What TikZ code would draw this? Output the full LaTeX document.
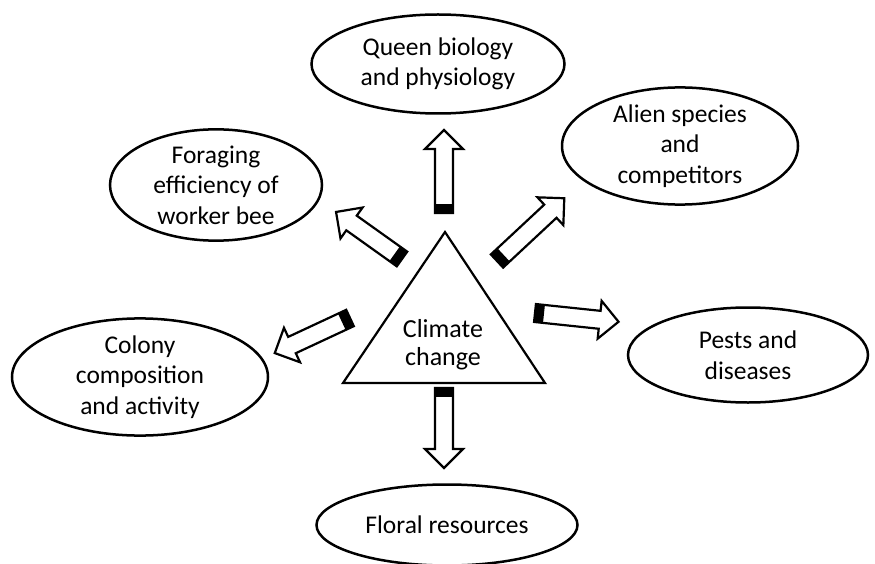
\documentclass[tikz,border=0pt]{standalone}
\usepackage{fontspec}
\setmainfont{Carlito}
\usetikzlibrary{shapes.geometric}
\tikzset{
  bubble/.style={draw, ellipse, line width=2.5pt, inner sep=0pt, align=center,
    font=\fontsize{25.5}{30.5}\selectfont},
  pics/blockarrow/.style={code={
    \fill (0,-9) rectangle (9,9);
    \draw[line width=2.2pt, line join=miter] (0,-9) -- ({#1-19},-9) -- ({#1-19},-19) -- (#1,0)
      -- ({#1-19},19) -- ({#1-19},9) -- (0,9) -- cycle;
  }}
}
\begin{document}
\begin{tikzpicture}[x=1pt,y=-1pt]
\useasboundingbox (0,0) rectangle (875,564);
% triangle
\coordinate (apex) at (445,232);
\coordinate (bl) at (343,383);
\coordinate (br) at (545,383);
\draw[line width=2.2pt, line join=miter] (apex) -- (bl) -- (br) -- cycle;
\node[font=\fontsize{26}{28}\selectfont, align=center] (cc) at (443,345) {Climate\\change};
% ellipses
\node[bubble, minimum width=253pt, minimum height=99pt] (queen) at (438,64) {Queen biology\\and physiology};
\node[bubble, minimum width=212pt, minimum height=100pt] (forag) at (216,185) {Foraging\\efficiency of\\worker bee};
\node[bubble, minimum width=236pt, minimum height=95pt] (alien) at (680,146) {Alien species\\and\\competitors};
\node[bubble, minimum width=256pt, minimum height=110pt] (colony) at (140,377) {Colony\\composition\\and activity};
\node[bubble, minimum width=240pt, minimum height=95pt] (pests) at (748,355) {Pests and\\diseases};
\node[bubble, minimum width=261pt, minimum height=81pt] (floral) at (447,525) {Floral resources};
% block arrows
\pic[rotate=90] (aup) at (444,213) {blockarrow=83};
\pic[rotate=-90] (adown) at (444,388) {blockarrow=80};
\pic[rotate=144.5] (aul) at (402,259) {blockarrow=81};
\pic[rotate=43] (aur) at (497,261) {blockarrow=92};
\pic[rotate=205] (al) at (350,318) {blockarrow=83};
\pic[rotate=-6] (ar) at (535,313) {blockarrow=84};
\end{tikzpicture}
\end{document}
